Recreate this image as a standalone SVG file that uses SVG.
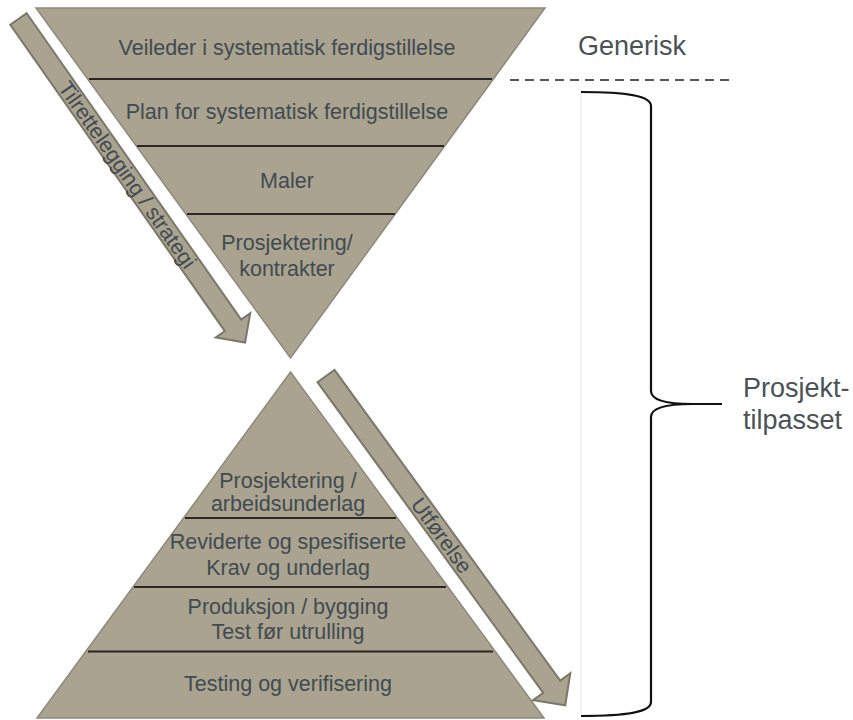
<svg xmlns="http://www.w3.org/2000/svg" width="853" height="720" viewBox="0 0 853 720">
  <defs>
    <style>
      .tri { fill: #a9a390; stroke: #8e8a7a; stroke-width: 1.5; }
      .sep { stroke: #2b2722; stroke-width: 2.2; }
      .lbl { font-family: "Liberation Sans", Arial, sans-serif; font-size: 21.5px; fill: #414b51; text-anchor: middle; }
      .side { font-family: "Liberation Sans", Arial, sans-serif; font-size: 27px; fill: #4a5257; }
      .arrow { fill: #a9a390; stroke: #7b786a; stroke-width: 2; stroke-linejoin: miter; }
      .brace { fill: none; stroke: #111; stroke-width: 2.2; }
    </style>
  </defs>

  <rect width="853" height="720" fill="#ffffff"/>

  <!-- Upper (inverted) funnel -->
  <g id="funnel-top">
    <polygon class="tri" points="36,8 545,8 290.5,358"/>
    <line class="sep" x1="89" y1="79" x2="492" y2="79"/>
    <line class="sep" x1="137" y1="146" x2="444" y2="146"/>
    <line class="sep" x1="187" y1="214" x2="395" y2="214"/>
    <text class="lbl" x="287" y="55">Veileder i systematisk ferdigstillelse</text>
    <text class="lbl" x="287" y="119">Plan for systematisk ferdigstillelse</text>
    <text class="lbl" x="287" y="188">Maler</text>
    <text class="lbl" x="287" y="250">Prosjektering/</text>
    <text class="lbl" x="287" y="276">kontrakter</text>
  </g>

  <!-- Lower pyramid -->
  <g id="pyramid-bottom">
    <polygon class="tri" points="290.5,372 544,718 37,718"/>
    <line class="sep" x1="185" y1="518" x2="396" y2="518"/>
    <line class="sep" x1="134" y1="587" x2="446" y2="587"/>
    <line class="sep" x1="88" y1="651.5" x2="493" y2="651.5"/>
    <text class="lbl" x="288" y="488">Prosjektering /</text>
    <text class="lbl" x="288" y="511">arbeidsunderlag</text>
    <text class="lbl" x="288" y="549">Reviderte og spesifiserte</text>
    <text class="lbl" x="288" y="575">Krav og underlag</text>
    <text class="lbl" x="288" y="614">Produksjon / bygging</text>
    <text class="lbl" x="288" y="639">Test før utrulling</text>
    <text class="lbl" x="288" y="691">Testing og verifisering</text>
  </g>

  <!-- Process arrows along the funnel sides -->
  <g id="connectors">
    <g id="arrow-strategi" transform="translate(18.5,19) rotate(55)">
      <path class="arrow" d="M0,-10 H374 V-21 L395,0 L374,21 V10 H0 Z"/>
      <text class="lbl" x="190" y="7.5">Tilrettelegging / strategi</text>
    </g>
    <g id="arrow-utforelse" transform="translate(326,376) rotate(54)">
      <path class="arrow" d="M0,-10.5 H384 V-23 L407,0 L384,23 V10.5 H0 Z"/>
      <text class="lbl" x="197" y="7.5">Utførelse</text>
    </g>
  </g>

  <!-- Scope markers on the right -->
  <g id="generic">
    <text class="side" x="578" y="55">Generisk</text>
    <line x1="510" y1="80" x2="735" y2="80" stroke="#222" stroke-width="1.6" stroke-dasharray="9,6"/>
  </g>

  <g id="project-adapted">
    <line x1="581" y1="92" x2="581" y2="716" stroke="#e4e4e4" stroke-width="1"/>
    <path class="brace" d="M581,92 C628,92 651,96 651,106 V391 C651,399 664,404 692,404 H722 M692,404 C664,404 651,409 651,417 V702 C651,712 628,716 581,716"/>
    <text class="side" x="743" y="397">Prosjekt-</text>
    <text class="side" x="743" y="429">tilpasset</text>
  </g>
</svg>
